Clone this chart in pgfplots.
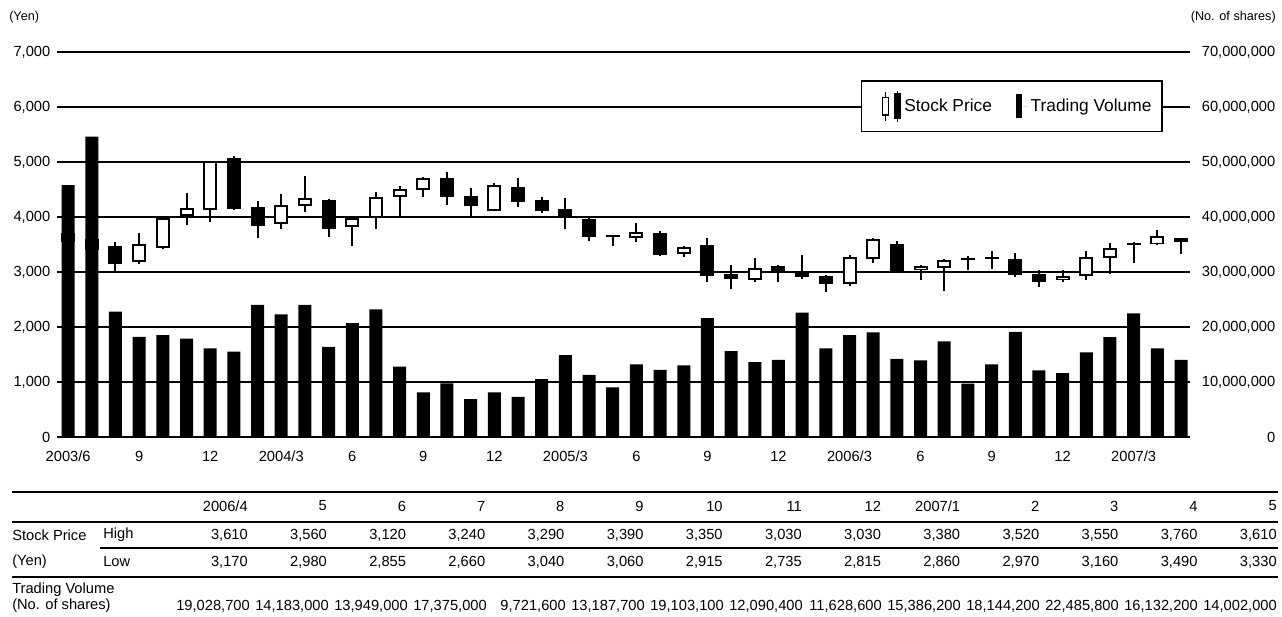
\documentclass[border=0pt]{standalone}
\usepackage{fontspec}
\setmainfont{Liberation Sans}
\usepackage{pgfplots}
\usepackage{pgfplotstable}
\pgfplotsset{compat=1.18}

% month index (0 = 2003/6), open, high, low, close, volume
\pgfplotstableread{
i O H L C V
0 3550 3750 3480 3700 45800000
1 3600 3650 3350 3400 54600000
2 3470 3550 3010 3140 22800000
3 3180 3700 3150 3500 18200000
4 3440 3990 3410 3980 18500000
5 4010 4440 3860 4170 17900000
6 4120 5020 3910 5010 16100000
7 5070 5110 4130 4140 15500000
8 4180 4290 3610 3840 24000000
9 3870 4420 3790 4210 22300000
10 4200 4750 4090 4350 24000000
11 4300 4330 3640 3790 16400000
12 3820 4000 3480 3980 20700000
13 3980 4460 3790 4360 23200000
14 4370 4560 4000 4500 12800000
15 4490 4720 4370 4710 8100000
16 4710 4820 4220 4370 9750000
17 4380 4520 4000 4200 6900000
18 4110 4620 4100 4580 8100000
19 4550 4700 4180 4280 7300000
20 4310 4370 4080 4110 10500000
21 4140 4340 3790 3980 14900000
22 3970 4000 3560 3640 11300000
23 3650 3660 3480 3640 9000000
24 3610 3890 3550 3720 13200000
25 3700 3750 3290 3310 12200000
26 3330 3470 3280 3460 13000000
27 3490 3610 2820 2930 21600000
28 2970 3130 2690 2870 15600000
29 2860 3250 2820 3080 13600000
30 3110 3120 2810 2980 14000000
31 3020 3310 2870 2910 22600000
32 2930 2940 2640 2790 16100000
33 2780 3310 2750 3280 18500000
34 3230 3610 3170 3600 19028700
35 3500 3560 2980 2990 14183000
36 3030 3120 2855 3110 13949000
37 3070 3240 2660 3220 17375000
38 3220 3290 3040 3230 9721600
39 3230 3390 3060 3260 13187700
40 3240 3350 2915 2940 19103100
41 2960 3030 2735 2820 12090400
42 2850 3030 2815 2930 11628600
43 2920 3380 2860 3270 15386200
44 3260 3520 2970 3440 18144200
45 3490 3550 3160 3500 22485800
46 3500 3760 3490 3660 16132200
47 3610 3610 3330 3540 14002000
}\stock

\newcommand\tf{\fontsize{11}{13}\selectfont}

\begin{document}
\begin{tikzpicture}
\begin{scope}[x=0.75pt,y=0.75pt]
\useasboundingbox (0,0) rectangle (1282,617);
\end{scope}

\pgfplotsset{
  base/.style={
    scale only axis,
    width=849.75pt, height=288.75pt,
    at={(42.75pt,135pt)}, anchor=south west,
    xmin=-0.47, xmax=47.38,
    axis line style={draw=none},
    major tick length=0pt,
    ticklabel style={font=\tf},
    /pgf/number format/assume math mode=true,
    /pgf/number format/1000 sep={,},
    scaled y ticks=false,
  },
  candle/.style={only marks, mark=*, mark size=0pt,
    mark options={draw=none, fill=none},
    error bars/y dir=plus, error bars/y explicit,
    error bars/error mark=none},
}

% price axis with candles
\begin{axis}[base,
  ymin=0, ymax=7000,
  ytick={0,1000,...,7000},
  ymajorgrids,
  grid style={black, line width=0.9pt},
  xtick={0,3,...,45},
  xticklabels={2003/6,9,12,2004/3,6,9,12,2005/3,6,9,12,2006/3,6,9,12,2007/3},
  xticklabel style={yshift=-7pt},
  yticklabel style={xshift=-1.5pt},
]
% wicks
\addplot[candle, error bars/error bar style={black, line width=1.5pt}]
  table[x=i, y=L, y error plus expr=\thisrow{H}-\thisrow{L}] {\stock};
% bodies
\addplot[candle, error bars/error bar style={black, line width=10.5pt}]
  table[x=i, y expr={min(\thisrow{O},\thisrow{C})},
        y error plus expr={max(abs(\thisrow{C}-\thisrow{O}),40)}] {\stock};
% hollow part of rising candles
\addplot[candle, restrict expr to domain={\thisrow{C}-\thisrow{O}}{73:100000},
  error bars/error bar style={white, line width=7.5pt}]
  table[x=i, y expr=\thisrow{O}+36,
        y error plus expr=\thisrow{C}-\thisrow{O}-72] {\stock};
\end{axis}

% volume axis
\begin{axis}[base,
  ymin=0, ymax=70000000,
  ytick={0,10000000,...,70000000},
  yticklabels={0,{10,000,000},{20,000,000},{30,000,000},{40,000,000},{50,000,000},{60,000,000},{70,000,000}},
  xtick=\empty,
  ytick pos=right, yticklabel pos=right,
  yticklabel style={anchor=east, xshift=67.5pt},
  legend style={at={(rel axis cs:0.976,0.927)}, anchor=north east,
    draw=black, line width=1.1pt, fill=white,
    legend columns=2, font=\fontsize{13}{15}\selectfont,
    inner xsep=6pt, inner ysep=7pt,
    /tikz/every even column/.append style={column sep=16pt}},
]
\addlegendimage{legend image code/.code={
  \path[draw=none] (-12pt,0) -- (12pt,0);
  \draw[line width=1pt] (0pt,-11pt)--(0pt,11pt);
  \draw[line width=1pt, fill=white] (-2.2pt,-6.5pt) rectangle (2.2pt,6.5pt);
  \draw[line width=1pt] (9pt,-11.5pt)--(9pt,11.5pt);
  \fill (6.8pt,-9pt) rectangle (11.2pt,9pt);
}}
\addlegendentry{Stock Price}
\addplot[ybar, bar width=9.75pt, bar shift=0pt, fill=black, draw=none,
  legend image code/.code={\path[draw=none] (0,0) -- (9pt,0);
    \fill (0pt,-9pt) rectangle (4.5pt,9pt);}]
  table[x=i, y=V] {\stock};
\addlegendentry{Trading Volume}
\end{axis}

\begin{scope}[x=0.75pt,y=0.75pt]
% unit labels
\node[anchor=west, font=\fontsize{9.5}{11}\selectfont, inner sep=0] at (9,600) {(Yen)};
\node[anchor=east, font=\fontsize{9.5}{11}\selectfont, inner sep=0] at (1276,600) {(No. of shares)};

% table
\begin{scope}[line width=1.1pt]
\draw (12,125) -- (1278,125);
\draw (12,95) -- (1278,95);
\draw (100,69) -- (1278,69);
\draw (12,40) -- (1278,40);
\end{scope}
\begin{scope}[font=\tf, inner sep=0]
\node[anchor=west] at (12,82) {Stock Price};
\node[anchor=west] at (12,55) {(Yen)};
\node[anchor=west] at (103,82) {High};
\node[anchor=west] at (103,55) {Low};
\node[anchor=west] at (12,27) {Trading Volume};
\node[anchor=west] at (12,11) {(No. of shares)};
\foreach \t [count=\k from 0] in {{2006/4},5,6,7,8,9,10,11,12,{2007/1},2,3,4,5}
  \node[anchor=east] at ({248+79.15*\k},111) {\t};
\foreach \t [count=\k from 0] in {{3,610},{3,560},{3,120},{3,240},{3,290},{3,390},{3,350},{3,030},{3,030},{3,380},{3,520},{3,550},{3,760},{3,610}}
  \node[anchor=east] at ({248+79.15*\k},82) {\t};
\foreach \t [count=\k from 0] in {{3,170},{2,980},{2,855},{2,660},{3,040},{3,060},{2,915},{2,735},{2,815},{2,860},{2,970},{3,160},{3,490},{3,330}}
  \node[anchor=east] at ({248+79.15*\k},55) {\t};
\foreach \t [count=\k from 0] in {{19,028,700},{14,183,000},{13,949,000},{17,375,000},{9,721,600},{13,187,700},{19,103,100},{12,090,400},{11,628,600},{15,386,200},{18,144,200},{22,485,800},{16,132,200},{14,002,000}}
  \node[anchor=east] at ({250+79*\k},11) {\t};
\end{scope}
\end{scope}
\end{tikzpicture}
\end{document}
